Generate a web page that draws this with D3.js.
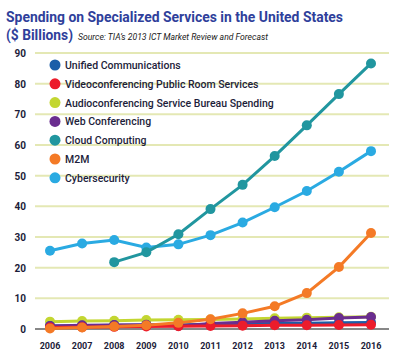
<!DOCTYPE html>
<html>
<head>
<meta charset="utf-8">
<script src="https://cdn.jsdelivr.net/npm/d3@7"></script>
<style>
  body { margin: 0; background: #fff; }
  svg { display: block; font-family: Roboto, "Liberation Sans", sans-serif; }
</style>
</head>
<body>
<svg id="chart" width="403" height="361"></svg>
<script>
var years = [2006, 2007, 2008, 2009, 2010, 2011, 2012, 2013, 2014, 2015, 2016]
var yTicks = [0, 10, 20, 30, 40, 50, 60, 70, 80, 90]

var seriesNames = ['Unified Communications', 'Videoconferencing Public Room Services',
  'Audioconferencing Service Bureau Spending', 'Web Conferencing', 'Cloud Computing', 'M2M', 'Cybersecurity']
var seriesColors = ['#1b5ea8', '#ec1c2b', '#c3d631', '#6a2d8f', '#21969f', '#f47a26', '#2aaae2']

var unified = [1.0, 1.1, 1.2, 1.3, 1.4, 1.5, 1.7, 1.8, 1.9, 2.0, 2.1]
var video = [0.5, 0.6, 0.7, 0.8, 0.9, 1.0, 1.1, 1.2, 1.2, 1.3, 1.4]
var audio = [2.4, 2.6, 2.7, 2.9, 3.0, 3.1, 3.3, 3.5, 3.7, 3.8, 4.0]
var web = [1.0, 1.2, 1.3, 1.4, 1.0, 1.8, 2.2, 2.7, 3.0, 3.6, 3.9]
var cloud = [null, null, 21.8, 25.0, 30.9, 39.1, 47.0, 56.4, 66.4, 76.6, 86.6]
var m2m = [0.2, 0.5, 0.8, 1.2, 2.0, 3.2, 5.1, 7.4, 11.7, 20.2, 31.3]
var cyber = [25.5, 27.9, 29.0, 26.6, 27.6, 30.6, 34.7, 39.7, 45.0, 51.3, 58.0]

var seriesValues = [unified, video, audio, web, cloud, m2m, cyber]
// draw order: bottom first
var drawOrder = [6, 4, 2, 0, 3, 1, 5]

var svg = d3.select('#chart')
var x = d3.scalePoint().domain(years).range([50, 371])
var y = d3.scaleLinear().domain([0, 90]).range([329, 53])

// title
svg.append('text').attr('x', 6).attr('y', 22)
  .attr('fill', '#2f3f9b').attr('font-size', 15.5).attr('font-weight', 'bold')
  .attr('textLength', 337).attr('lengthAdjust', 'spacingAndGlyphs')
  .text('Spending on Specialized Services in the United States')
svg.append('text').attr('x', 6).attr('y', 40)
  .attr('fill', '#2f3f9b').attr('font-size', 15.5).attr('font-weight', 'bold')
  .attr('textLength', 67).attr('lengthAdjust', 'spacingAndGlyphs')
  .text('($ Billions)')
svg.append('text').attr('x', 78).attr('y', 39.5)
  .attr('font-size', 8.5).attr('font-style', 'italic').attr('fill', '#222')
  .attr('textLength', 190).attr('lengthAdjust', 'spacingAndGlyphs')
  .text('Source:  TIA\u2019s 2013 ICT Market Review and Forecast')

// grid
svg.append('g').selectAll('line').data(yTicks.filter(function (d) { return d > 0 }))
  .enter().append('line')
  .attr('x1', 35).attr('x2', 389)
  .attr('y1', function (d) { return y(d) }).attr('y2', function (d) { return y(d) })
  .attr('stroke', '#e4e8b4').attr('stroke-width', 2)

svg.append('line').attr('x1', 35).attr('x2', 389).attr('y1', y(0)).attr('y2', y(0))
  .attr('stroke', '#111').attr('stroke-width', 1.2)

svg.append('g').selectAll('text').data(yTicks).enter().append('text')
  .attr('x', 26).attr('y', function (d) { return y(d) + 4 })
  .attr('text-anchor', 'end').attr('font-size', 10).attr('font-weight', 'bold')
  .attr('fill', '#1d1d3a').text(function (d) { return d })

svg.append('g').selectAll('text').data(years).enter().append('text')
  .attr('x', function (d) { return x(d) }).attr('y', 349)
  .attr('text-anchor', 'middle').attr('font-size', 9).attr('font-weight', 'bold')
  .attr('fill', '#1d1d3a').text(function (d) { return d })

var line = d3.line()
  .defined(function (d) { return d != null })
  .x(function (d, i) { return x(years[i]) })
  .y(function (d) { return y(d) })

drawOrder.forEach(function (si) {
  var vals = seriesValues[si]
  var g = svg.append('g')
  g.append('path').datum(vals).attr('d', line)
    .attr('fill', 'none').attr('stroke', seriesColors[si]).attr('stroke-width', 3)
  g.selectAll('circle').data(vals.map(function (v, i) { return { v: v, yr: years[i] } })
    .filter(function (d) { return d.v != null }))
    .enter().append('circle')
    .attr('cx', function (d) { return x(d.yr) }).attr('cy', function (d) { return y(d.v) })
    .attr('r', 5).attr('fill', seriesColors[si])
})

// legend
var legend = svg.append('g').selectAll('g').data(seriesNames).enter().append('g')
  .attr('transform', function (d, i) { return 'translate(55,' + (65 + i * 18.8) + ')' })
legend.append('circle').attr('r', 5.5).attr('fill', function (d, i) { return seriesColors[i] })
legend.append('text').attr('x', 10).attr('y', 4).attr('font-size', 10.5)
  .attr('fill', '#1d1d3a').attr('font-weight', 500).text(function (d) { return d })
</script>
</body>
</html>
